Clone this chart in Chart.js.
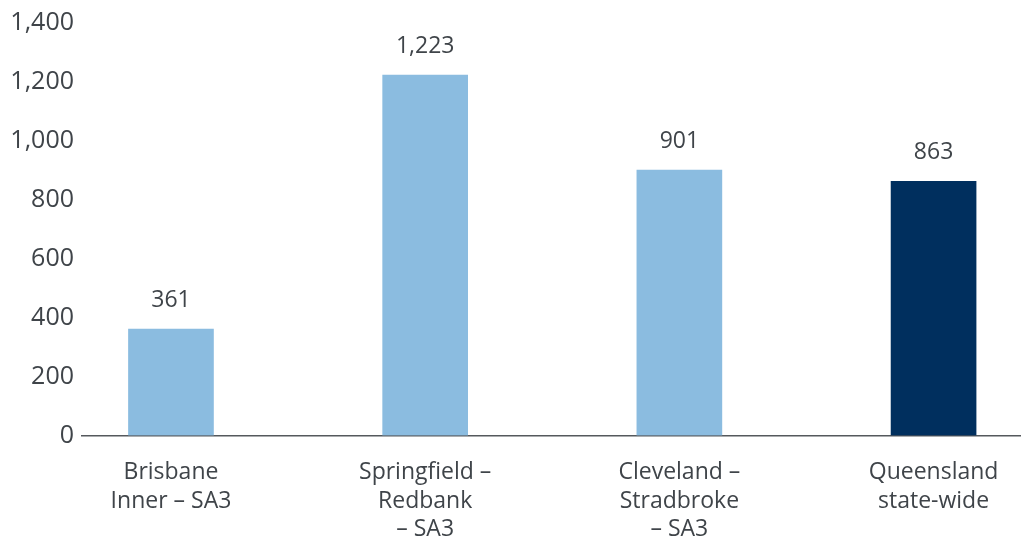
<!DOCTYPE html>
<html>
<head>
<meta charset="utf-8">
<script src="https://cdn.jsdelivr.net/npm/chart.js@4"></script>
<style>
  html, body { margin: 0; padding: 0; background: #fff; }
  #wrap { width: 1023px; height: 539px; }
</style>
</head>
<body>
<div id="wrap"><canvas id="chart"></canvas></div>
<script>
// chart data
const categories = [
  ['Brisbane', 'Inner – SA3'],
  ['Springfield –', 'Redbank', '– SA3'],
  ['Cleveland –', 'Stradbroke', '– SA3'],
  ['Queensland', 'state-wide']
]
const values = [361, 1223, 901, 863]
const barColors = ['#8bbce0', '#8bbce0', '#8bbce0', '#002f5e']
const yTicks = [0, 200, 400, 600, 800, 1000, 1200, 1400]

const textColor = '#3f4449'
const fontFamily = '"Open Sans", "Noto Sans", sans-serif'

// value labels above each bar
const valueLabels = {
  id: 'valueLabels',
  afterDatasetsDraw(chart) {
    const { ctx } = chart
    const meta = chart.getDatasetMeta(0)
    ctx.save()
    ctx.font = `23px ${fontFamily}`
    ctx.fillStyle = textColor
    ctx.textAlign = 'center'
    ctx.textBaseline = 'alphabetic'
    meta.data.forEach((bar, i) => {
      ctx.fillText(values[i].toLocaleString('en-US'), bar.x, bar.y - 22)
    })
    ctx.restore()
  }
}

new Chart(document.getElementById('chart'), {
  type: 'bar',
  data: {
    datasets: [{
      data: values.map((v, i) => ({ x: i, y: v })),
      backgroundColor: barColors,
      borderWidth: 0,
      barThickness: 85
    }]
  },
  options: {
    responsive: true,
    maintainAspectRatio: false,
    animation: false,
    layout: { padding: { top: 22, right: 3, left: 0, bottom: 0 } },
    plugins: { legend: { display: false }, tooltip: { enabled: false } },
    scales: {
      x: {
        type: 'linear',
        offset: false,
        min: -0.35,
        max: 3.34,
        grid: { display: false, drawTicks: false },
        border: { display: true, color: '#55595d', width: 1.5 },
        afterFit(scale) { scale.height = 103.5 },
        ticks: {
          stepSize: 1,
          includeBounds: false,
          autoSkip: false,
          maxRotation: 0,
          padding: 23,
          color: textColor,
          font: { family: fontFamily, size: 23, lineHeight: 1.24 },
          callback: v => Number.isInteger(v) && categories[v] ? categories[v] : ''
        }
      },
      y: {
        min: 0,
        max: 1400,
        grid: { display: false, drawTicks: false },
        border: { display: false },
        afterFit(scale) { scale.width = 82 },
        afterBuildTicks(scale) { scale.ticks = yTicks.map(v => ({ value: v })) },
        ticks: {
          padding: 8,
          color: textColor,
          font: { family: fontFamily, size: 25 },
          callback: v => v.toLocaleString('en-US')
        }
      }
    }
  },
  plugins: [valueLabels]
})
</script>
</body>
</html>
